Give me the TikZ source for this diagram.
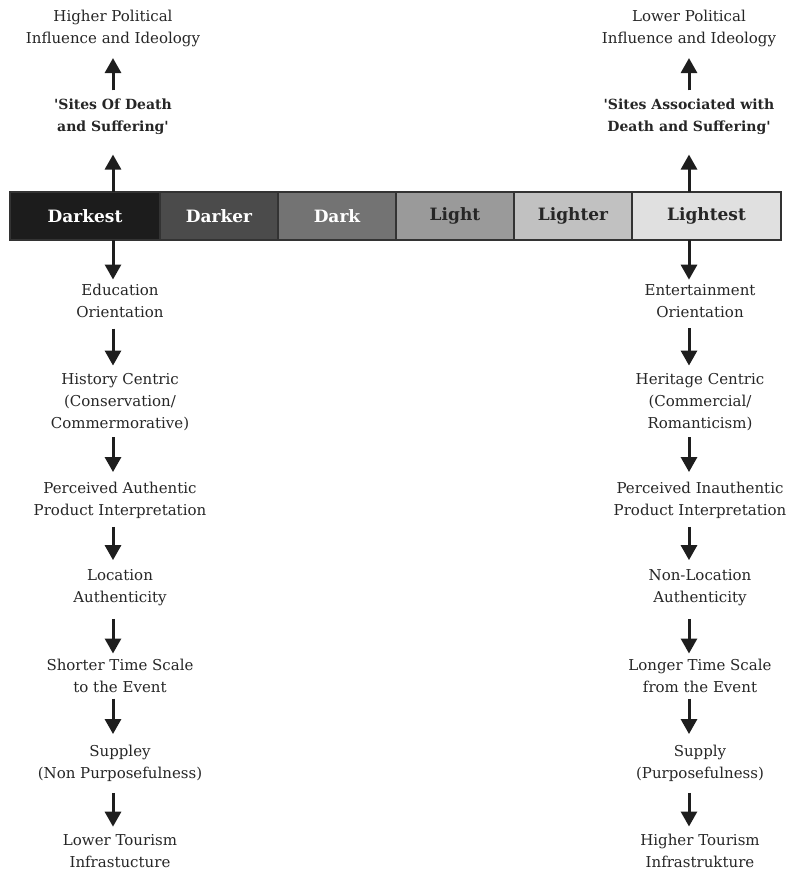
\documentclass[tikz,border=0pt]{standalone}
\usepackage{fontspec}
\setmainfont{DejaVu Serif}
\usetikzlibrary{arrows.meta}
\definecolor{segA}{HTML}{1C1C1C}
\definecolor{segB}{HTML}{4B4B4B}
\definecolor{segC}{HTML}{737373}
\definecolor{segD}{HTML}{9A9A9A}
\definecolor{segE}{HTML}{C1C1C1}
\definecolor{segF}{HTML}{E0E0E0}
\definecolor{segborder}{HTML}{333333}
\definecolor{txt}{HTML}{262626}
\definecolor{arrc}{HTML}{1E1E1E}
\begin{document}
\begin{tikzpicture}[x=1pt,y=-1pt,
  lbl/.style={align=center,inner sep=0pt,text=txt,font=\fontsize{15}{22}\selectfont},
  blbl/.style={lbl,font=\fontsize{14}{22}\selectfont\bfseries},
  seg/.style={draw=segborder,line width=1.5pt,minimum height=48pt,inner sep=0pt,outer sep=0pt,anchor=west,font=\fontsize{17}{20}\selectfont\bfseries},
  arr/.style={line width=3pt,draw=arrc,-{Triangle[width=16pt,length=15pt]}}
]
\useasboundingbox (0,0) rectangle (790,871);
\coordinate (cL) at (113,0);
\coordinate (cR) at (689,0);
% bar
\node[seg,fill=segA,minimum width=150pt,text=white] (s1) at (10,216) {Darkest};
\node[seg,fill=segB,minimum width=118pt,text=white] (s2) at (s1.east) {Darker};
\node[seg,fill=segC,minimum width=118pt,text=white] (s3) at (s2.east) {Dark};
\node[seg,fill=segD,minimum width=118pt,text=txt] (s4) at (s3.east) {Light};
\node[seg,fill=segE,minimum width=118pt,text=txt] (s5) at (s4.east) {Lighter};
\node[seg,fill=segF,minimum width=149pt,text=txt] (s6) at (s5.east) {Lightest};
% top texts
\node[lbl] (hL) at (113,28.5) {Higher Political\\Influence and Ideology};
\node[blbl] (sL) at (113,116.5) {\textquotesingle Sites Of Death\\and Suffering\textquotesingle};
\node[lbl] (hR) at (689,28.5) {Lower Political\\Influence and Ideology};
\node[blbl] (sR) at (689,116.5) {\textquotesingle Sites Associated with\\Death and Suffering\textquotesingle};
% left column
\node[lbl] (l1) at (120,301) {Education\\Orientation};
\node[lbl] (l2) at (120,402) {History Centric\\(Conservation/\\Commermorative)};
\node[lbl] (l3) at (120,500) {Perceived Authentic\\Product Interpretation};
\node[lbl] (l4) at (120,588) {Location\\Authenticity};
\node[lbl] (l5) at (120,676) {Shorter Time Scale\\to the Event};
\node[lbl] (l6) at (120,763) {Suppley\\(Non Purposefulness)};
\node[lbl] (l7) at (120,851) {Lower Tourism\\Infrastucture};
% right column
\node[lbl] (r1) at (700,301) {Entertainment\\Orientation};
\node[lbl] (r2) at (700,402) {Heritage Centric\\(Commercial/\\Romanticism)};
\node[lbl] (r3) at (700,500) {Perceived Inauthentic\\Product Interpretation};
\node[lbl] (r4) at (700,588) {Non-Location\\Authenticity};
\node[lbl] (r5) at (700,676) {Longer Time Scale\\from the Event};
\node[lbl] (r6) at (700,763) {Supply\\(Purposefulness)};
\node[lbl] (r7) at (700,851) {Higher Tourism\\Infrastrukture};
% upward arrows
\draw[arr,shorten >=20pt] (s1.north -| cL) -- (sL.south -| cL);
\draw[arr,shorten <=8pt,shorten >=11pt] (sL.north -| cL) -- (hL.south -| cL);
\draw[arr,shorten >=20pt] (s6.north -| cR) -- (sR.south -| cR);
\draw[arr,shorten <=8pt,shorten >=11pt] (sR.north -| cR) -- (hR.south -| cR);
% downward arrows
\foreach \c/\a/\b/\p/\q in {L/s1/l1/0/4.5, R/s6/r1/0/4.5,
  L/l1/l2/10.5/7.5, R/r1/r2/10.5/7.5,
  L/l2/l3/6.5/9.5, R/r2/r3/6.5/9.5,
  L/l3/l4/8.5/9.5, R/r3/r4/8.5/9.5,
  L/l4/l5/12.5/5.5, R/r4/r5/12.5/5.5,
  L/l5/l6/5.5/10.5, R/r5/r6/5.5/10.5,
  L/l6/l7/11.5/7.5, R/r6/r7/11.5/7.5}
  \draw[arr,shorten <=\p pt,shorten >=\q pt] (\a.south -| c\c) -- (\b.north -| c\c);
\end{tikzpicture}
\end{document}
